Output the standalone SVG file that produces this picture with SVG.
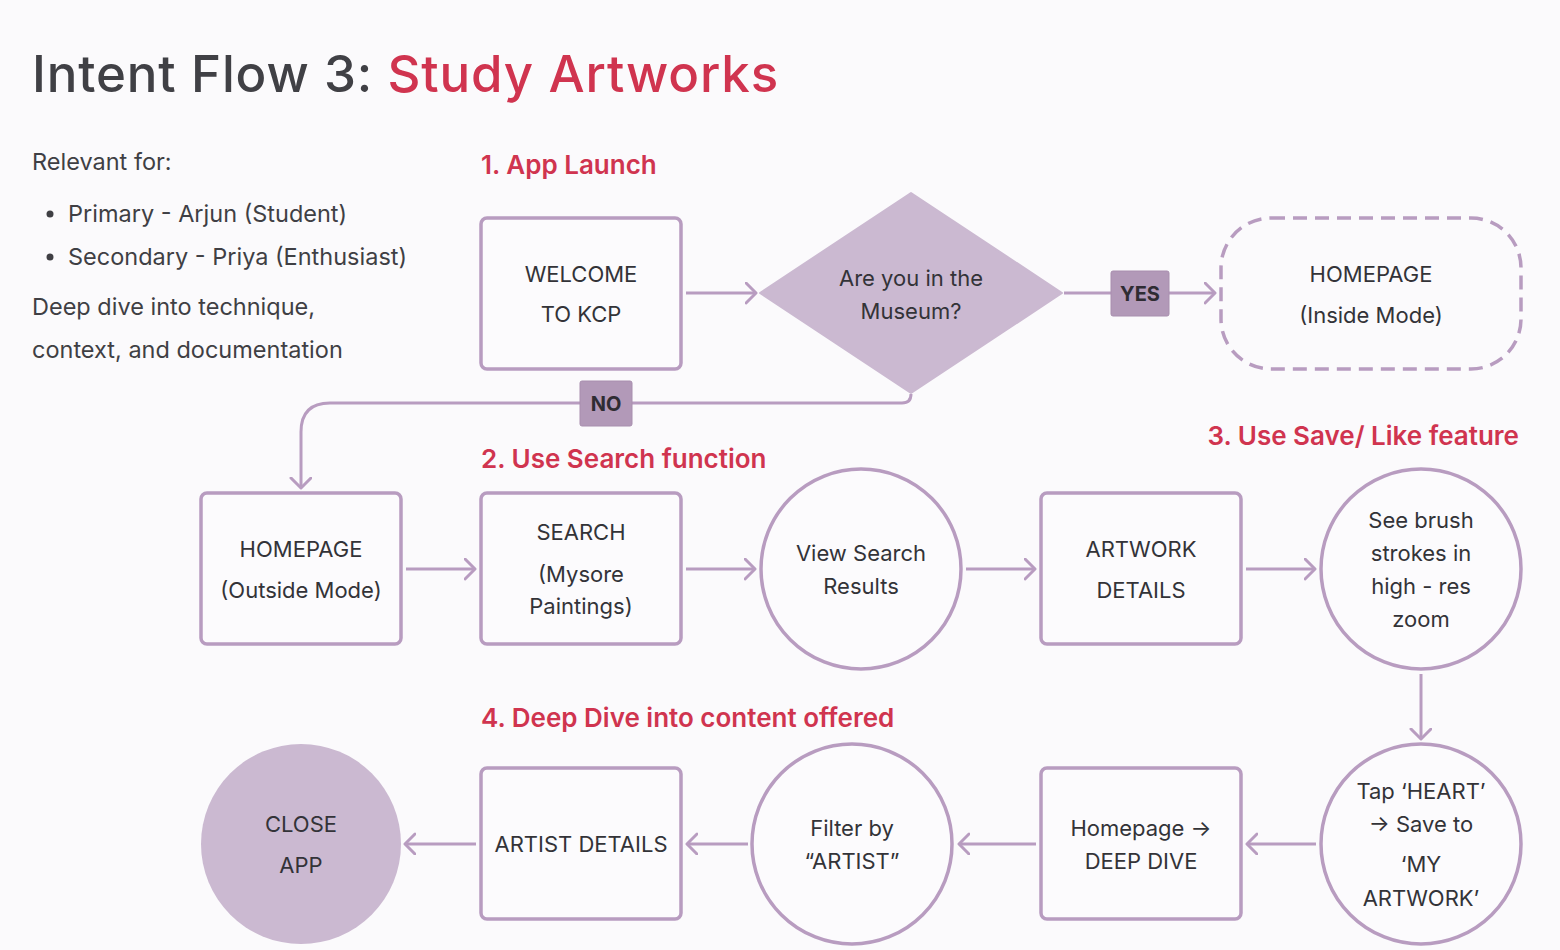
<svg xmlns="http://www.w3.org/2000/svg" width="1560" height="950" viewBox="0 0 1560 950">
<defs>
<marker id="arr" markerUnits="userSpaceOnUse" markerWidth="16" markerHeight="24" refX="11" refY="11" orient="auto">
<path d="M1,1 L11,11 L1,21" fill="none" stroke="#b89cc0" stroke-width="3" stroke-linecap="round" stroke-linejoin="round"/>
</marker>
</defs>
<style>
.bg{fill:#fbfafc}
.box{fill:#fcfbfd;stroke:#b89cc0;stroke-width:3.5}
.dash{fill:none;stroke:#b89cc0;stroke-width:3.5;stroke-dasharray:14 8}
.fill{fill:#cbb9d1}
.t{font-family:Inter,"Liberation Sans",sans-serif;font-size:22px;fill:#333338;text-anchor:middle}
.lbl{font-family:Inter,"Liberation Sans",sans-serif;font-size:20px;font-weight:700;fill:#2f2c33;text-anchor:middle}
.lblbox{fill:#b299b8;stroke:#a88eae;stroke-width:1}
.h{font-family:Inter,"Liberation Sans",sans-serif;font-size:26px;font-weight:600;fill:#d0344f}
.side{font-family:Inter,"Liberation Sans",sans-serif;font-size:23.5px;fill:#3f3f44}
.conn{fill:none;stroke:#b89cc0;stroke-width:3;marker-end:url(#arr)}
</style>
<rect class="bg" x="0" y="0" width="1560" height="950"/>

<g id="title">
<text x="32" y="92" font-family="Inter,'Liberation Sans',sans-serif" font-size="51" font-weight="500" letter-spacing="0.85"><tspan fill="#404045">Intent Flow 3: </tspan><tspan fill="#d0344f">Study Artworks</tspan></text>
</g>

<g id="sidebar">
<text class="side" x="32" y="170">Relevant for:</text>
<circle cx="50" cy="214" r="3.5" fill="#3f3f44"/>
<text class="side" x="68" y="222">Primary - Arjun (Student)</text>
<circle cx="50" cy="257" r="3.5" fill="#3f3f44"/>
<text class="side" x="68" y="265">Secondary - Priya (Enthusiast)</text>
<text class="side" x="32" y="315">Deep dive into technique,</text>
<text class="side" x="32" y="358">context, and documentation</text>
</g>

<g id="headings">
<text class="h" x="481" y="174">1. App Launch</text>
<text class="h" x="481" y="468">2. Use Search function</text>
<text class="h" x="1519" y="445" text-anchor="end">3. Use Save/ Like feature</text>
<text class="h" x="481" y="727">4. Deep Dive into content offered</text>
</g>

<g id="connectors">
<line class="conn" x1="686" y1="293" x2="756" y2="293"/>
<line x1="1064" y1="293" x2="1111" y2="293" stroke="#b89cc0" stroke-width="3"/>
<line class="conn" x1="1169" y1="293" x2="1215" y2="293"/>
<path class="conn" d="M911,394 Q911,403 902,403 L330,403 Q301,403 301,432 L301,488"/>
<line class="conn" x1="406" y1="569" x2="475" y2="569"/>
<line class="conn" x1="686" y1="569" x2="755" y2="569"/>
<line class="conn" x1="966" y1="569" x2="1035" y2="569"/>
<line class="conn" x1="1246" y1="569" x2="1315" y2="569"/>
<line class="conn" x1="1421" y1="674" x2="1421" y2="739"/>
<line class="conn" x1="1316" y1="844" x2="1247" y2="844"/>
<line class="conn" x1="1036" y1="844" x2="959" y2="844"/>
<line class="conn" x1="748" y1="844" x2="687" y2="844"/>
<line class="conn" x1="476" y1="844" x2="405" y2="844"/>
</g>

<g id="label-yes">
<rect class="lblbox" x="1111" y="271" width="58" height="45" rx="2"/>
<text class="lbl" x="1140" y="301">YES</text>
</g>
<g id="label-no">
<rect class="lblbox" x="580" y="381" width="52" height="45" rx="2"/>
<text class="lbl" x="606" y="411">NO</text>
</g>

<g id="welcome">
<rect class="box" x="481" y="218" width="200" height="151" rx="6"/>
<text class="t" x="581" y="282">WELCOME</text>
<text class="t" x="581" y="322">TO KCP</text>
</g>

<g id="decision">
<polygon class="fill" points="911,193 1062,293 911,393 760,293" stroke="#cbb9d1" stroke-width="2" stroke-linejoin="round"/>
<text class="t" x="911" y="286">Are you in the</text>
<text class="t" x="911" y="319">Museum?</text>
</g>

<g id="homepage-inside">
<rect class="dash" x="1221" y="218" width="300" height="151" rx="50"/>
<text class="t" x="1371" y="282">HOMEPAGE</text>
<text class="t" x="1371" y="323">(Inside Mode)</text>
</g>

<g id="homepage-outside">
<rect class="box" x="201" y="493" width="200" height="151" rx="6"/>
<text class="t" x="301" y="557">HOMEPAGE</text>
<text class="t" x="301" y="598">(Outside Mode)</text>
</g>

<g id="search">
<rect class="box" x="481" y="493" width="200" height="151" rx="6"/>
<text class="t" x="581" y="540">SEARCH</text>
<text class="t" x="581" y="582">(Mysore</text>
<text class="t" x="581" y="614">Paintings)</text>
</g>

<g id="view-results">
<circle class="box" cx="861" cy="569" r="100"/>
<text class="t" x="861" y="561">View Search</text>
<text class="t" x="861" y="594">Results</text>
</g>

<g id="artwork-details">
<rect class="box" x="1041" y="493" width="200" height="151" rx="6"/>
<text class="t" x="1141" y="557">ARTWORK</text>
<text class="t" x="1141" y="598">DETAILS</text>
</g>

<g id="brush-zoom">
<circle class="box" cx="1421" cy="569" r="100"/>
<text class="t" x="1421" y="528">See brush</text>
<text class="t" x="1421" y="561">strokes in</text>
<text class="t" x="1421" y="594">high - res</text>
<text class="t" x="1421" y="627">zoom</text>
</g>

<g id="tap-heart">
<circle class="box" cx="1421" cy="844" r="100"/>
<text class="t" x="1421" y="799">Tap ‘HEART’</text>
<text class="t" x="1421" y="832">→ Save to</text>
<text class="t" x="1421" y="872">‘MY</text>
<text class="t" x="1421" y="906">ARTWORK’</text>
</g>

<g id="deep-dive">
<rect class="box" x="1041" y="768" width="200" height="151" rx="6"/>
<text class="t" x="1141" y="836">Homepage →</text>
<text class="t" x="1141" y="869">DEEP DIVE</text>
</g>

<g id="filter-artist">
<circle class="box" cx="852" cy="844" r="100"/>
<text class="t" x="852" y="836">Filter by</text>
<text class="t" x="852" y="869">“ARTIST”</text>
</g>

<g id="artist-details">
<rect class="box" x="481" y="768" width="200" height="151" rx="6"/>
<text class="t" x="581" y="852">ARTIST DETAILS</text>
</g>

<g id="close-app">
<circle class="fill" cx="301" cy="844" r="100"/>
<text class="t" x="301" y="832">CLOSE</text>
<text class="t" x="301" y="873">APP</text>
</g>
</svg>
